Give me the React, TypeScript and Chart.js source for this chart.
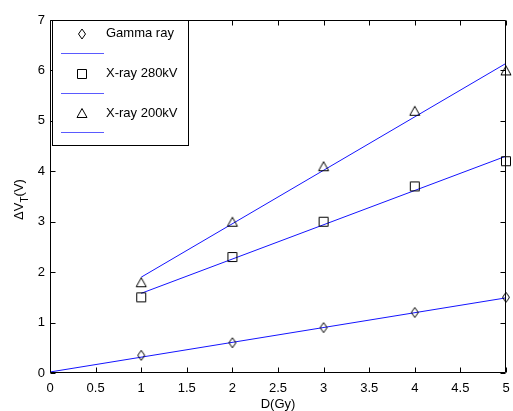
import React, { useEffect, useRef } from 'react';
import { Chart, registerables } from 'chart.js';

Chart.register(...registerables);

// ---- data ----
const doseX = [1, 2, 3, 4, 5];
const gammaRay = [0.35, 0.6, 0.9, 1.2, 1.5];
const xray280 = [1.5, 2.3, 3.0, 3.7, 4.2];
const xray200 = [1.8, 3.0, 4.1, 5.2, 6.0];

const gammaFitX = [0, 5];
const gammaFitY = [0.02, 1.49];
const xray280FitX = [1, 5];
const xray280FitY = [1.58, 4.3];
const xray200FitX = [1, 5];
const xray200FitY = [1.9, 6.14];

const xTickValues = [0, 0.5, 1, 1.5, 2, 2.5, 3, 3.5, 4, 4.5, 5];
const xTickLabels = ['0', '0.5', '1', '1.5', '2', '2.5', '3', '3.5', '4', '4.5', '5'];
const yTickValues = [0, 1, 2, 3, 4, 5, 6, 7];
const yTickLabels = ['0', '1', '2', '3', '4', '5', '6', '7'];
const legendLabels = ['Gamma ray', '', 'X-ray 280kV', '', 'X-ray 200kV', ''];
const xTitle = 'D(Gy)';
const yTitleMain = '\u0394V';
const yTitleSub = 'T';
const yTitleTail = '(V)';

const FONT = '"Liberation Sans", Arial, Helvetica, sans-serif';
const LINE_BLUE = 'rgb(20,20,255)';
const LEGEND_BLUE = 'rgb(90,90,255)';
const MARK = '#000';

type Kind = 'diamond' | 'square' | 'triangle';

function makeMarker(kind: Kind): HTMLCanvasElement {
  const c = document.createElement('canvas');
  c.width = 14;
  c.height = 14;
  const ctx = c.getContext('2d')!;
  ctx.strokeStyle = MARK;
  ctx.lineWidth = 1;
  ctx.beginPath();
  if (kind === 'diamond') {
    ctx.moveTo(7, 2);
    ctx.lineTo(10.5, 7);
    ctx.lineTo(7, 12);
    ctx.lineTo(3.5, 7);
    ctx.closePath();
  } else if (kind === 'square') {
    ctx.rect(2.5, 2.5, 9, 9);
  } else {
    ctx.moveTo(7, 2.5);
    ctx.lineTo(12, 11.5);
    ctx.lineTo(2, 11.5);
    ctx.closePath();
  }
  ctx.stroke();
  return c;
}

function pts(xs: number[], ys: number[]) {
  return xs.map((x, i) => ({ x, y: ys[i] }));
}

export default function App() {
  const ref = useRef<HTMLCanvasElement | null>(null);

  useEffect(() => {
    const canvas = ref.current;
    if (!canvas) return;
    const diamond = makeMarker('diamond');
    const square = makeMarker('square');
    const triangle = makeMarker('triangle');
    const legendMarkers: (HTMLCanvasElement | null)[] = [diamond, null, square, null, triangle, null];

    const overlay = {
      id: 'matlabOverlay',
      afterDraw(chart: any) {
        const ctx = chart.ctx as CanvasRenderingContext2D;
        const a = chart.chartArea;
        const xs = chart.scales.x;
        const ys = chart.scales.y;
        ctx.save();
        const L = Math.round(a.left) + 0.5;
        const R = Math.round(a.right) - 0.5;
        const T = Math.round(a.top) + 0.5;
        const B = Math.round(a.bottom) - 0.5;
        ctx.strokeStyle = '#000';
        ctx.lineWidth = 1;
        ctx.beginPath();
        ctx.rect(L, T, R - L, B - T);
        ctx.stroke();
        // inward ticks
        const tl = 5;
        ctx.beginPath();
        xTickValues.forEach((v) => {
          const px = Math.round(xs.getPixelForValue(v)) + 0.5;
          ctx.moveTo(px, B);
          ctx.lineTo(px, B - tl);
          ctx.moveTo(px, T);
          ctx.lineTo(px, T + tl);
        });
        yTickValues.forEach((v) => {
          const py = Math.round(ys.getPixelForValue(v)) + 0.5;
          ctx.moveTo(L, py);
          ctx.lineTo(L + tl, py);
          ctx.moveTo(R, py);
          ctx.lineTo(R - tl, py);
        });
        ctx.stroke();

        // x title
        ctx.fillStyle = '#000';
        ctx.font = `13px ${FONT}`;
        ctx.textAlign = 'center';
        ctx.textBaseline = 'middle';
        ctx.fillText(xTitle, (a.left + a.right) / 2, 404);

        // y title (rotated, with subscript)
        ctx.save();
        ctx.translate(19, (a.top + a.bottom) / 2 + 3);
        ctx.rotate(-Math.PI / 2);
        ctx.textAlign = 'left';
        ctx.textBaseline = 'middle';
        const mainFont = `13px ${FONT}`;
        const subFont = `10px ${FONT}`;
        ctx.font = mainFont;
        const w1 = ctx.measureText(yTitleMain).width;
        const w3 = ctx.measureText(yTitleTail).width;
        ctx.font = subFont;
        const w2 = ctx.measureText(yTitleSub).width;
        let x0 = -(w1 + w2 + w3) / 2;
        ctx.font = mainFont;
        ctx.fillText(yTitleMain, x0, 0);
        x0 += w1;
        ctx.font = subFont;
        ctx.fillText(yTitleSub, x0, 6);
        x0 += w2;
        ctx.font = mainFont;
        ctx.fillText(yTitleTail, x0, 0);
        ctx.restore();

        // legend box
        const bx = 52.5, by = 20.5, bw = 136, bh = 125;
        ctx.fillStyle = '#fff';
        ctx.fillRect(bx, by, bw, bh);
        ctx.strokeStyle = '#000';
        ctx.strokeRect(bx, by, bw, bh);
        const rowY = [33.5, 53.5, 73.5, 93.5, 113, 132.5];
        ctx.font = `13px ${FONT}`;
        ctx.textAlign = 'left';
        ctx.textBaseline = 'middle';
        legendLabels.forEach((label, i) => {
          const y = rowY[i];
          const m = legendMarkers[i];
          if (m) {
            ctx.drawImage(m, 82 - m.width / 2, Math.round(y - m.height / 2));
          } else {
            ctx.strokeStyle = LEGEND_BLUE;
            ctx.beginPath();
            ctx.moveTo(61, y);
            ctx.lineTo(104, y);
            ctx.stroke();
          }
          if (label) {
            ctx.fillStyle = '#000';
            ctx.fillText(label, 106, y);
          }
        });
        ctx.restore();
      },
    };

    const lineDs = (xsArr: number[], ysArr: number[]) => ({
      data: pts(xsArr, ysArr),
      showLine: true,
      borderColor: LINE_BLUE,
      borderWidth: 1,
      pointRadius: 0,
      fill: false,
    });
    const markDs = (ysArr: number[], style: HTMLCanvasElement) => ({
      data: pts(doseX, ysArr),
      showLine: false,
      pointStyle: style,
      pointRadius: 6,
      borderColor: MARK,
      backgroundColor: 'transparent',
    });

    const labelFor = (values: number[], labels: string[]) => (v: any) => {
      const i = values.indexOf(Number(v));
      return i >= 0 ? labels[i] : String(v);
    };

    const chart = new Chart(canvas, {
      type: 'scatter',
      data: {
        datasets: [
          markDs(gammaRay, diamond),
          lineDs(gammaFitX, gammaFitY),
          markDs(xray280, square),
          lineDs(xray280FitX, xray280FitY),
          markDs(xray200, triangle),
          lineDs(xray200FitX, xray200FitY),
        ] as any,
      },
      options: {
        responsive: false,
        animation: false,
        devicePixelRatio: 1,
        clip: false,
        layout: { padding: { top: 20, right: 3, left: 0, bottom: 0 } },
        plugins: { legend: { display: false }, tooltip: { enabled: false } },
        scales: {
          x: {
            type: 'linear',
            min: 0,
            max: 5,
            afterFit: (s: any) => {
              s.height = 38;
              s.paddingLeft = 0;
              s.paddingRight = 0;
            },
            afterBuildTicks: (s: any) => {
              s.ticks = xTickValues.map((v) => ({ value: v }));
            },
            ticks: {
              font: { family: FONT, size: 13 },
              color: '#000',
              padding: 8,
              maxRotation: 0,
              minRotation: 0,
              autoSkip: false,
              callback: labelFor(xTickValues, xTickLabels),
            },
            grid: { display: false, drawTicks: false },
            border: { display: false },
          },
          y: {
            type: 'linear',
            min: 0,
            max: 7,
            afterFit: (s: any) => {
              s.width = 50;
              s.paddingTop = 0;
              s.paddingBottom = 0;
            },
            afterBuildTicks: (s: any) => {
              s.ticks = yTickValues.map((v) => ({ value: v }));
            },
            ticks: {
              font: { family: FONT, size: 13 },
              color: '#000',
              padding: 5,
              autoSkip: false,
              callback: labelFor(yTickValues, yTickLabels),
            },
            grid: { display: false, drawTicks: false },
            border: { display: false },
          },
        },
      } as any,
      plugins: [overlay],
    });
    return () => chart.destroy();
  }, []);

  return (
    <div style={{ position: 'fixed', left: 0, top: 0, width: 513, height: 411, background: '#fff' }}>
      <canvas ref={ref} width={513} height={411} style={{ display: 'block' }} />
    </div>
  );
}
